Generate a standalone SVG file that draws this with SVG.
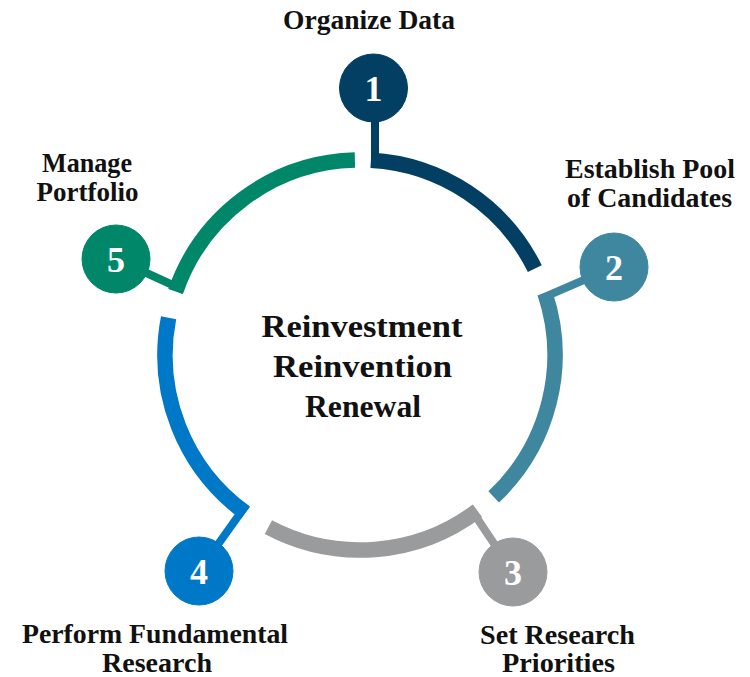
<svg xmlns="http://www.w3.org/2000/svg" width="750" height="677" viewBox="0 0 750 677">
<style>
.arc{fill:none;stroke-width:15.5;stroke-linecap:butt}
.stem{stroke-width:8;stroke-linecap:butt}
.num{font-family:"Liberation Serif","DejaVu Serif",serif;font-weight:bold;font-size:36px;fill:#ffffff;text-anchor:middle}
.lbl{font-family:"Liberation Serif","DejaVu Serif",serif;font-weight:bold;font-size:27px;fill:#111111;text-anchor:middle}
.ctr{font-family:"Liberation Serif","DejaVu Serif",serif;font-weight:bold;font-size:32px;fill:#111111;text-anchor:middle}
.c1{stroke:#023f62;fill:#023f62}
.c2{stroke:#3e879f;fill:#3e879f}
.c3{stroke:#9a9b9d;fill:#9a9b9d}
.c4{stroke:#0078c8;fill:#0078c8}
.c5{stroke:#00876a;fill:#00876a}
</style>
<rect width="750" height="677" fill="#ffffff"/>
<g id="connectors">
<path class="arc c1" style="fill:none" d="M370.9 160.3 A195 195 0 0 1 534.8 268.6"/>
<path class="arc c2" style="fill:none" d="M544.9 293.1 A195 195 0 0 1 493.7 496.9"/>
<path class="arc c3" style="fill:none" d="M477.4 510.7 A195 195 0 0 1 268.4 527.2"/>
<path class="arc c4" style="fill:none" d="M245.4 512.8 A195 195 0 0 1 168.6 317.8"/>
<path class="arc c5" style="fill:none" d="M175.6 291.5 A195 195 0 0 1 354.9 160.1"/>
<line class="stem c1" x1="375" y1="100" x2="375" y2="167.5"/>
<line class="stem c2" x1="614" y1="267" x2="539.6" y2="299.1"/>
<line class="stem c3" x1="513" y1="572" x2="469.9" y2="507.5"/>
<line class="stem c4" x1="199" y1="571" x2="246.3" y2="504.8"/>
<line class="stem c5" x1="116" y1="259" x2="183.5" y2="290.0"/>
</g>
<g id="node1">
<circle class="c1" cx="373.5" cy="88" r="34" stroke="none"/>
<text class="num" x="373.5" y="100.5">1</text>
<text class="lbl" x="369" y="29" textLength="172" lengthAdjust="spacingAndGlyphs">Organize Data</text>
</g>
<g id="node2">
<circle class="c2" cx="614" cy="267" r="34" stroke="none"/>
<text class="num" x="614" y="279.5">2</text>
<text class="lbl" x="650" y="178" textLength="170" lengthAdjust="spacingAndGlyphs">Establish Pool</text>
<text class="lbl" x="649.5" y="207" textLength="165" lengthAdjust="spacingAndGlyphs">of Candidates</text>
</g>
<g id="node3">
<circle class="c3" cx="513" cy="572" r="34" stroke="none"/>
<text class="num" x="513" y="584.5">3</text>
<text class="lbl" x="557.5" y="644" textLength="155" lengthAdjust="spacingAndGlyphs">Set Research</text>
<text class="lbl" x="558.5" y="672" textLength="113" lengthAdjust="spacingAndGlyphs">Priorities</text>
</g>
<g id="node4">
<circle class="c4" cx="199" cy="571" r="34" stroke="none"/>
<text class="num" x="199" y="583.5">4</text>
<text class="lbl" x="155" y="643" textLength="266" lengthAdjust="spacingAndGlyphs">Perform Fundamental</text>
<text class="lbl" x="157" y="672" textLength="110" lengthAdjust="spacingAndGlyphs">Research</text>
</g>
<g id="node5">
<circle class="c5" cx="116" cy="259" r="34" stroke="none"/>
<text class="num" x="116" y="271.5">5</text>
<text class="lbl" x="87" y="172" textLength="90" lengthAdjust="spacingAndGlyphs">Manage</text>
<text class="lbl" x="87.5" y="201" textLength="102" lengthAdjust="spacingAndGlyphs">Portfolio</text>
</g>
<g id="center">
<text class="ctr" x="362" y="337" textLength="201" lengthAdjust="spacingAndGlyphs">Reinvestment</text>
<text class="ctr" x="362.5" y="377" textLength="179" lengthAdjust="spacingAndGlyphs">Reinvention</text>
<text class="ctr" x="363" y="417" textLength="116" lengthAdjust="spacingAndGlyphs">Renewal</text>
</g>
</svg>
